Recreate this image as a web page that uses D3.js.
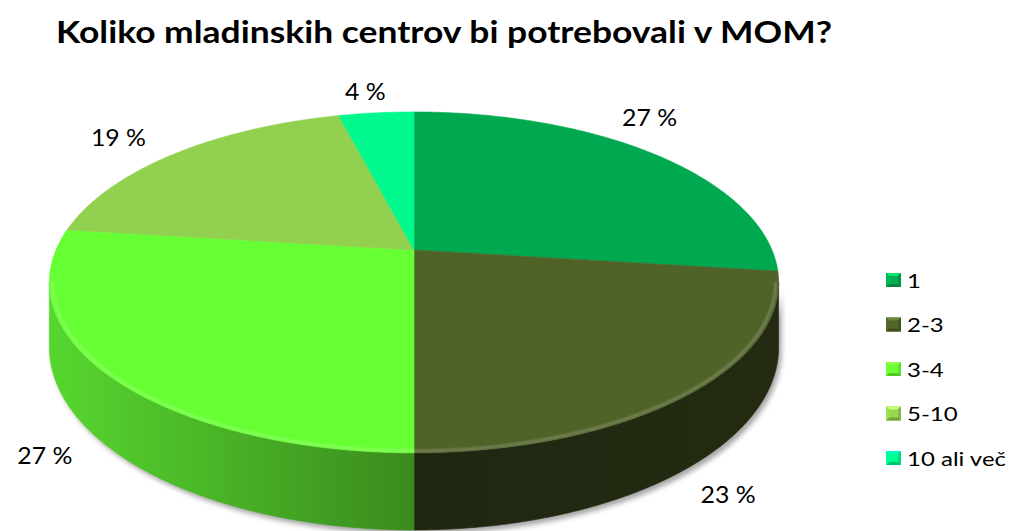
<!DOCTYPE html>
<html>
<head>
<meta charset="utf-8">
<script src="https://cdn.jsdelivr.net/npm/d3@7/dist/d3.min.js"></script>
<style>
  html, body { margin: 0; padding: 0; background: #fff; }
  svg { display: block; }
  text { font-family: Lato, "Open Sans", "DejaVu Sans", sans-serif; fill: #000; }
</style>
</head>
<body>
<svg id="chart" width="1011" height="531"></svg>
<script>
// Survey answers: how many youth centres the municipality (MOM) needs
const categories = ["1", "2-3", "3-4", "5-10", "10 ali več"];
const values = [27, 23, 27, 19, 4];
const title = "Koliko mladinskih centrov bi potrebovali v MOM?";

// Styling
const topColors  = ["#00a94f", "#4f6228", "#66ff33", "#92d050", "#00f88e"];
const sideLight  = ["#007a38", "#1f2711", "#57d62f", "#6f9e3b", "#00b868"];
const sideDark   = ["#005c2a", "#242b12", "#3a8b1d", "#5a8230", "#009854"];
// label offsets (px) from the rim anchor of each slice
const labelNudge = [[-3, -37], [38, 27], [-62, 9], [-57, -17], [-11, -22]];

const W = 1011, H = 531;
const svg = d3.select("#chart");
const defs = svg.append("defs");

// Perspective view of a flat disc (radius 1) and its extruded side
const CX = 414, CY = 250;   // projected disc centre
const S = 358, T = 164.3;   // horizontal / depth scale
const K = 0.19;             // perspective strength
const D = 62.5;             // extrusion depth
function proj(a, r, h) {
  const u = Math.sin(a) * r, v = Math.cos(a) * r;
  const w = 1 + K * v;
  return [CX + S * u / w, CY - (T * v - D * h) / w];
}

const pie = d3.pie().sort(null).value(d => d);
const arcs = pie(values).map((p, i) => ({ ...p, i, cat: categories[i] }));

// side wall is visible where the rim faces the viewer
const aVisR = Math.acos(-K);               // right silhouette
const aVisL = 2 * Math.PI - Math.acos(-K); // left silhouette

function arcPoints(a0, a1, r, h) {
  const n = Math.max(2, Math.ceil(Math.abs(a1 - a0) / (Math.PI / 360)));
  return d3.range(n + 1).map(j => proj(a0 + (a1 - a0) * j / n, r, h));
}
const line = d3.line();

// horizontally widened text helper
function wideText(g, x, y, sx, size, str, anchor, weight) {
  return g.append("text")
    .attr("transform", `translate(${x},${y}) scale(${sx},1)`)
    .attr("text-anchor", anchor || "start")
    .attr("dominant-baseline", "central")
    .attr("font-size", size)
    .attr("font-weight", weight || 400)
    .text(str);
}

// soft drop shadow under the cylinder
const blur = defs.append("filter").attr("id", "shadowBlur")
  .attr("x", "-10%").attr("y", "-10%").attr("width", "120%").attr("height", "130%");
blur.append("feGaussianBlur").attr("stdDeviation", 2.5);
const rimBlur = defs.append("filter").attr("id", "rimBlur");
rimBlur.append("feGaussianBlur").attr("stdDeviation", 0.8);

const shadowPts = arcPoints(aVisR, aVisL, 1, 0).concat(arcPoints(aVisL, aVisR, 1, 1));
svg.append("path")
  .attr("d", line(shadowPts) + "Z")
  .attr("transform", "translate(3,4)")
  .attr("fill", "#8a8a8a")
  .attr("opacity", 0.75)
  .attr("filter", "url(#shadowBlur)");

// side walls
const sideG = svg.append("g");
arcs.forEach(d => {
  const a0 = Math.max(d.startAngle, aVisR);
  const a1 = Math.min(d.endAngle, aVisL);
  if (a1 <= a0) return;
  const topPts = arcPoints(a0, a1, 1, 0);
  const botPts = arcPoints(a1, a0, 1, 1);
  const xs = topPts.map(p => p[0]);
  const gid = "side" + d.i;
  const g = defs.append("linearGradient").attr("id", gid)
    .attr("gradientUnits", "userSpaceOnUse")
    .attr("x1", d3.min(xs)).attr("x2", d3.max(xs)).attr("y1", 0).attr("y2", 0);
  g.append("stop").attr("offset", 0).attr("stop-color", sideLight[d.i]);
  g.append("stop").attr("offset", 1).attr("stop-color", sideDark[d.i]);
  sideG.append("path")
    .attr("d", line(topPts.concat(botPts)) + "Z")
    .attr("fill", `url(#${gid})`)
    .attr("stroke", `url(#${gid})`)
    .attr("stroke-width", 0.6);
});

// top faces
const topG = svg.append("g");
arcs.forEach(d => {
  const pts = [proj(0, 0, 0)].concat(arcPoints(d.startAngle, d.endAngle, 1, 0));
  topG.append("path")
    .attr("d", line(pts) + "Z")
    .attr("fill", topColors[d.i])
    .attr("stroke", topColors[d.i])
    .attr("stroke-width", 0.6)
    .attr("stroke-linejoin", "round");
});

// light bevel along the front rim of the top face
svg.append("path")
  .attr("d", line(arcPoints(aVisR, aVisL, 0.992, 0)))
  .attr("fill", "none")
  .attr("stroke", "#ffffff")
  .attr("stroke-opacity", 0.28)
  .attr("stroke-width", 2)
  .attr("filter", "url(#rimBlur)");

// percentage labels
const fmt = v => d3.format("d")(v) + " %";
const labelG = svg.append("g");
arcs.forEach(d => {
  const mid = (d.startAngle + d.endAngle) / 2;
  const front = Math.cos(mid) < 0;
  const p = proj(mid, 1, front ? 1 : 0);
  const [dx, dy] = labelNudge[d.i];
  wideText(labelG, p[0] + dx, p[1] + dy, 1.08, 23, fmt(d.data), "middle");
});

// title
svg.append("text")
  .attr("x", 56).attr("y", 43)
  .attr("font-size", 30)
  .attr("font-weight", 700)
  .attr("textLength", 776)
  .attr("lengthAdjust", "spacingAndGlyphs")
  .text(title);

// legend with bevelled swatches
const legY = d3.scalePoint().domain(categories).range([280, 458]);
const legX = 886, sw = 15, shh = 14;
const legend = svg.append("g");
categories.forEach((c, i) => {
  const y0 = legY(c) - shh / 2;
  const base = d3.color(topColors[i]);
  const cx = legX + sw / 2, cy = y0 + shh / 2;
  const corners = [[legX, y0], [legX + sw, y0], [legX + sw, y0 + shh], [legX, y0 + shh]];
  const shades = [base.brighter(0.9), base.darker(0.35), base.darker(0.7), base.brighter(0.2)];
  legend.append("rect").attr("x", legX).attr("y", y0).attr("width", sw).attr("height", shh)
    .attr("fill", base);
  corners.forEach((pt, k) => {
    const nx = corners[(k + 1) % 4];
    legend.append("path")
      .attr("d", line([pt, nx, [cx, cy]]) + "Z")
      .attr("fill", shades[k]);
  });
  legend.append("rect").attr("x", legX + 3).attr("y", y0 + 3)
    .attr("width", sw - 6).attr("height", shh - 6).attr("fill", base.brighter(0.1));
  wideText(legend, 907, legY(c), 1.2, 20, c, "start");
});
</script>
</body>
</html>
